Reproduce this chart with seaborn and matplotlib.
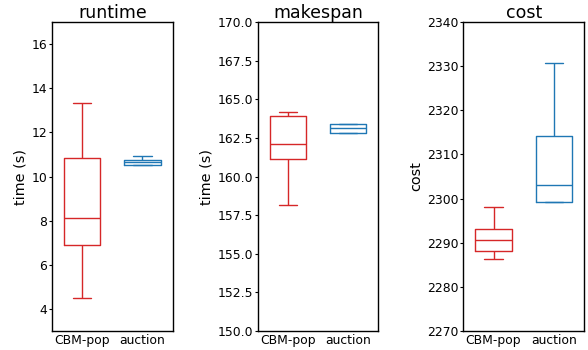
import matplotlib
matplotlib.use("Agg")
import matplotlib.pyplot as plt
import seaborn as sns
import pandas as pd

methods = ["CBM-pop", "auction"]

# five-number summaries per method: low whisker, Q1, median, Q3, high whisker
runtime_cbm = [4.48, 6.90, 8.11, 10.82, 13.34]
runtime_auction = [10.50, 10.54, 10.65, 10.76, 10.94]
makespan_cbm = [158.17, 161.15, 162.10, 163.90, 164.19]
makespan_auction = [162.83, 162.83, 163.13, 163.43, 163.43]
cost_cbm = [2286.3, 2288.1, 2290.6, 2293.0, 2298.1]
cost_auction = [2299.2, 2299.25, 2303.1, 2314.1, 2330.7]

titles = ["runtime", "makespan", "cost"]
ylabels = ["time (s)", "time (s)", "cost"]
ylims = [(3, 17), (150, 170), (2270, 2340)]
yticks = [[4, 6, 8, 10, 12, 14, 16],
          [150.0, 152.5, 155.0, 157.5, 160.0, 162.5, 165.0, 167.5, 170.0],
          [2270, 2280, 2290, 2300, 2310, 2320, 2330, 2340]]
ytick_fmt = ["{:.0f}", "{:.1f}", "{:.0f}"]
series = [(runtime_cbm, runtime_auction),
          (makespan_cbm, makespan_auction),
          (cost_cbm, cost_auction)]
palette = {"CBM-pop": "#d62728", "auction": "#1f77b4"}

sns.set_style("ticks")
plt.rcParams["font.family"] = ["DejaVu Sans"]
plt.rcParams.update({
    "text.color": "black",
    "axes.labelcolor": "black",
    "xtick.color": "black",
    "ytick.color": "black",
    "axes.edgecolor": "black",
})

fig, axes = plt.subplots(1, 3, figsize=(5.88, 3.5), dpi=100)
fig.subplots_adjust(left=0.0884, right=0.9932, top=0.937, bottom=0.0543, wspace=0.705)

for ax, (a, b), title, ylabel, ylim, ticks, fmt in zip(
        axes, series, titles, ylabels, ylims, yticks, ytick_fmt):
    df = pd.DataFrame({
        "method": [methods[0]] * len(a) + [methods[1]] * len(b),
        "value": list(a) + list(b),
    })
    sns.boxplot(data=df, x="method", y="value", hue="method", order=methods,
                palette=palette, fill=False, width=0.6, linewidth=1.0,
                whis=1.5, showfliers=False, legend=False, ax=ax)
    ax.set_xlim(-0.5, 1.5)
    ax.set_ylim(*ylim)
    ax.set_yticks(ticks)
    ax.set_yticklabels([fmt.format(t) for t in ticks])
    ax.set_title(title, fontsize=12.5, pad=3, color="black")
    ax.set_xlabel("")
    ax.set_ylabel(ylabel, fontsize=10.4, labelpad=3, color="black")
    ax.tick_params(axis="y", labelsize=8.9, length=2.5, width=0.8, pad=1,
                   colors="black")
    ax.tick_params(axis="x", labelsize=8.9, length=0, pad=2.5, colors="black")
    for s in ax.spines.values():
        s.set_visible(True)
        s.set_linewidth(1.0)
        s.set_color("black")

fig.savefig("out.png", dpi=100)
